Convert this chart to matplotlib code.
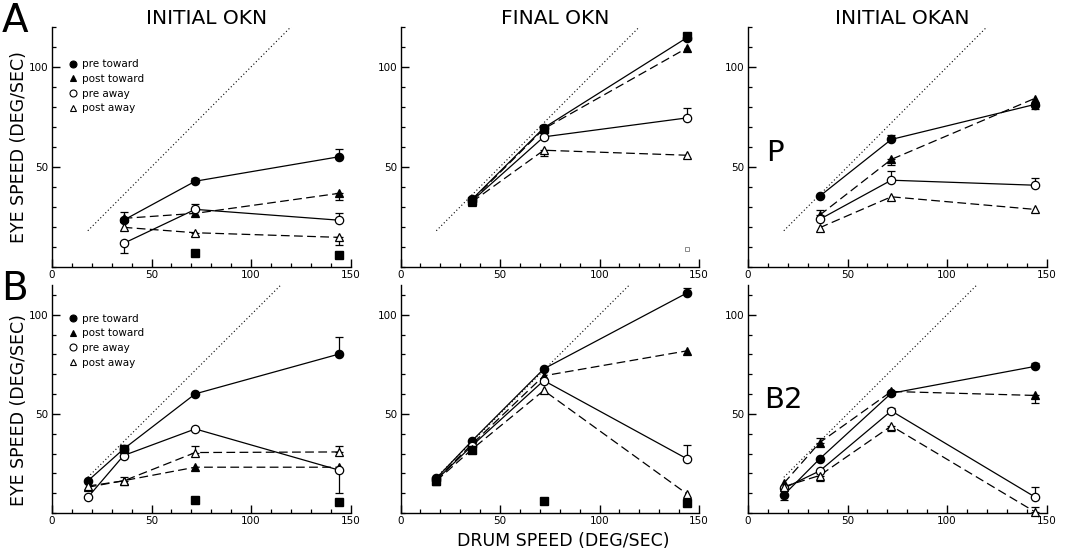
import matplotlib
matplotlib.use("Agg")
import matplotlib.pyplot as plt
from matplotlib.lines import Line2D

plt.rcParams['font.family'] = ['DejaVu Sans']

# ---------------- data ----------------
x_top = [36, 72, 144]
x_bot = [18, 36, 72, 144]
series_names = ["pre toward", "post toward", "pre away", "post away"]

# Panel A: INITIAL OKN (top row)
A1_pre_toward = [23.3, 42.8, 55.0]
A1_pre_toward_err = [0, 1.5, 4.0]
A1_post_toward = [24.2, 26.7, 36.7]
A1_post_toward_err = [3.0, 0, -3.5]
A1_pre_away = [11.7, 28.7, 23.3]
A1_pre_away_err = [-5.0, 2.5, 3.5]
A1_post_away = [19.7, 17.0, 14.7]
A1_post_away_err = [0, -1.5, -4.0]
A1_sq_x = [72, 144]
A1_sq_y = [6.7, 5.8]

# Panel A: FINAL OKN
A2_pre_toward = [33.8, 69.5, 114.7]
A2_pre_toward_err = [0, 0, 0]
A2_post_toward = [33.3, 69.0, 109.5]
A2_post_toward_err = [0, 0, 0]
A2_pre_away = [33.0, 65.0, 74.5]
A2_pre_away_err = [0, 0, 5.0]
A2_post_away = [32.5, 58.3, 55.8]
A2_post_away_err = [0, -3.0, 0]
A2_sq_x = [36, 72, 144]
A2_sq_y = [32.8, 69.0, 115.5]
A2_open_sq_x = [144]
A2_open_sq_y = [8.7]

# Panel A: INITIAL OKAN
A3_pre_toward = [35.3, 63.7, 81.2]
A3_pre_toward_err = [0, 2.0, -2.5]
A3_post_toward = [25.8, 53.7, 84.2]
A3_post_toward_err = [2.5, -3.0, 0]
A3_pre_away = [23.7, 43.3, 40.8]
A3_pre_away_err = [0, 4.5, 3.5]
A3_post_away = [19.5, 35.0, 28.7]
A3_post_away_err = [0, 0, 0]

# Panel B: INITIAL OKN (bottom row)
B1_pre_toward = [16.2, 32.3, 60.1, 80.1]
B1_pre_toward_err = [0, 0, 0, 8.6]
B1_post_toward = [13.0, 16.3, 23.1, 23.1]
B1_post_toward_err = [0, 2.0, 0, 0]
B1_pre_away = [7.9, 29.0, 42.4, 21.7]
B1_pre_away_err = [0, 0, 0, -11.4]
B1_post_away = [13.6, 16.2, 30.5, 30.8]
B1_post_away_err = [0, 0, 3.5, 3.2]
B1_sq_x = [36, 72, 144]
B1_sq_y = [32.5, 6.6, 5.4]

# Panel B: FINAL OKN
B2_pre_toward = [17.5, 36.5, 72.7, 111.0]
B2_pre_toward_err = [0, 0, 0, 2.5]
B2_post_toward = [17.0, 34.8, 69.2, 81.8]
B2_post_toward_err = [0, 0, 0, 0]
B2_pre_away = [16.7, 34.0, 66.8, 27.3]
B2_pre_away_err = [0, 0, 0, 7.0]
B2_post_away = [16.2, 32.2, 61.8, 9.6]
B2_post_away_err = [0, 0, 0, 0]
B2_sq_x = [18, 36, 72, 144]
B2_sq_y = [16.3, 31.8, 6.2, 4.9]

# Panel B: INITIAL OKAN
B3_pre_toward = [9.1, 27.3, 60.4, 73.9]
B3_pre_toward_err = [-2.5, 0, 0, 2.0]
B3_post_toward = [15.0, 35.5, 61.3, 59.3]
B3_post_toward_err = [0, 2.2, 0, -3.6]
B3_pre_away = [12.5, 21.2, 51.5, 8.2]
B3_pre_away_err = [0, 0, 1.5, 4.8]
B3_post_away = [13.3, 18.9, 43.9, 0.7]
B3_post_away_err = [0, -2.6, -2.5, 2.5]

col_titles = ["INITIAL OKN", "FINAL OKN", "INITIAL OKAN"]
identity_x = [18, 125]
x_ticks = [0, 50, 100, 150]
y_ticks = [50, 100]

# ---------------- styles ----------------
styles = {
    "pre toward": dict(marker='o', mfc='black', ls='-'),
    "post toward": dict(marker='^', mfc='black', ls=(0, (7, 3.5))),
    "pre away": dict(marker='o', mfc='white', ls='-'),
    "post away": dict(marker='^', mfc='white', ls=(0, (7, 3.5))),
}

W, H = 1068, 556
fig = plt.figure(figsize=(W / 100, H / 100), dpi=100)

lefts = [52, 400.5, 748]
pw = 298.5


def make_ax(col, row):
    if row == 0:
        bottom_px, top_px, ytop = 266.7, 27.0, 120
    else:
        bottom_px, top_px, ytop = 513.0, 285.0, 115
    ax = fig.add_axes([lefts[col] / W, 1 - bottom_px / H, pw / W, (bottom_px - top_px) / H])
    ax.set_xlim(0, 150)
    ax.set_ylim(0, ytop)
    for s in ['top', 'right']:
        ax.spines[s].set_visible(False)
    for s in ['left', 'bottom']:
        ax.spines[s].set_linewidth(1.0)
    ax.set_xticks(x_ticks)
    ax.set_xticks(range(0, 151, 10), minor=True)
    ax.set_yticks(y_ticks)
    ax.set_yticks(range(0, ytop + 1, 10), minor=True)
    ax.tick_params(which='major', direction='in', length=5.5, width=1.0, labelsize=7.5, pad=2.5)
    ax.tick_params(which='minor', direction='in', length=3, width=0.9)
    ax.patch.set_alpha(0)
    # identity line
    ax.plot(identity_x, identity_x, ls=(0, (1, 2.2)), color='black', lw=0.8, zorder=1)
    return ax


def draw_series(ax, xs, ys, errs, name):
    st = styles[name]
    ax.plot(xs, ys, color='black', lw=0.9, ls=st['ls'], zorder=2, clip_on=False)
    lower = [-e if e < 0 else 0 for e in errs]
    upper = [e if e > 0 else 0 for e in errs]
    ex = [x for x, e in zip(xs, errs) if e != 0]
    ey = [y for y, e in zip(ys, errs) if e != 0]
    el = [l for l, e in zip(lower, errs) if e != 0]
    eu = [u for u, e in zip(upper, errs) if e != 0]
    if ex:
        ax.errorbar(ex, ey, yerr=[el, eu], fmt='none', ecolor='black', elinewidth=0.9,
                    capsize=3, capthick=0.9, zorder=2, clip_on=False)
    ax.plot(xs, ys, ls='none', marker=st['marker'], mfc=st['mfc'], mec='black',
            mew=0.9, ms=6, zorder=4, clip_on=False)


panels = [
    [(x_top, A1_pre_toward, A1_pre_toward_err, A1_post_toward, A1_post_toward_err,
      A1_pre_away, A1_pre_away_err, A1_post_away, A1_post_away_err),
     (x_top, A2_pre_toward, A2_pre_toward_err, A2_post_toward, A2_post_toward_err,
      A2_pre_away, A2_pre_away_err, A2_post_away, A2_post_away_err),
     (x_top, A3_pre_toward, A3_pre_toward_err, A3_post_toward, A3_post_toward_err,
      A3_pre_away, A3_pre_away_err, A3_post_away, A3_post_away_err)],
    [(x_bot, B1_pre_toward, B1_pre_toward_err, B1_post_toward, B1_post_toward_err,
      B1_pre_away, B1_pre_away_err, B1_post_away, B1_post_away_err),
     (x_bot, B2_pre_toward, B2_pre_toward_err, B2_post_toward, B2_post_toward_err,
      B2_pre_away, B2_pre_away_err, B2_post_away, B2_post_away_err),
     (x_bot, B3_pre_toward, B3_pre_toward_err, B3_post_toward, B3_post_toward_err,
      B3_pre_away, B3_pre_away_err, B3_post_away, B3_post_away_err)],
]
squares = {(0, 0): (A1_sq_x, A1_sq_y), (0, 1): (A2_sq_x, A2_sq_y),
           (1, 0): (B1_sq_x, B1_sq_y), (1, 1): (B2_sq_x, B2_sq_y)}

axes = {}
for r in range(2):
    for c in range(3):
        ax = make_ax(c, r)
        axes[(r, c)] = ax
        p = panels[r][c]
        xs = p[0]
        for i, name in enumerate(series_names):
            draw_series(ax, xs, p[1 + 2 * i], p[2 + 2 * i], name)
        if (r, c) in squares:
            sx, sy = squares[(r, c)]
            ax.plot(sx, sy, ls='none', marker='s', mfc='black', mec='black', ms=5.2,
                    zorder=5, clip_on=False)
        if (r, c) == (0, 1):
            ax.plot(A2_open_sq_x, A2_open_sq_y, ls='none', marker='s', mfc='white',
                    mec='#777777', mew=0.6, ms=3.5, zorder=5)

# legends in left column
for r in range(2):
    ax = axes[(r, 0)]
    handles = [Line2D([], [], ls='none', marker=styles[n]['marker'], mfc=styles[n]['mfc'],
                      mec='black', mew=0.8, ms=5) for n in series_names]
    y0 = 0.865 if r == 0 else 0.875
    ax.legend(handles, series_names, loc='upper left', bbox_to_anchor=(0.055, y0),
              frameon=False, fontsize=7.5, handlelength=0.8, handletextpad=0.5,
              labelspacing=0.45, borderpad=0, borderaxespad=0)

# titles
for c, t in enumerate(col_titles):
    cx = (lefts[c] + pw / 2 + 5) / W
    fig.text(cx, 1 - 18 / H, t, ha='center', va='center', fontsize=14.5)

# panel letters
fig.text(2 / W, 1 - 21 / H, "A", ha='left', va='center', fontsize=28)
fig.text(1 / W, 1 - 289 / H, "B", ha='left', va='center', fontsize=28)
fig.text(775 / W, 1 - 153 / H, "P", ha='center', va='center', fontsize=21)
fig.text(783 / W, 1 - 400 / H, "B2", ha='center', va='center', fontsize=21)

# axis labels
fig.text(19 / W, 1 - 147 / H, "EYE SPEED (DEG/SEC)", rotation=90, ha='center', va='center', fontsize=12.5)
fig.text(19 / W, 1 - 410 / H, "EYE SPEED (DEG/SEC)", rotation=90, ha='center', va='center', fontsize=12.5)
fig.text(563 / W, 1 - 541 / H, "DRUM SPEED (DEG/SEC)", ha='center', va='center', fontsize=12.5)

fig.savefig("out.png", dpi=100)
